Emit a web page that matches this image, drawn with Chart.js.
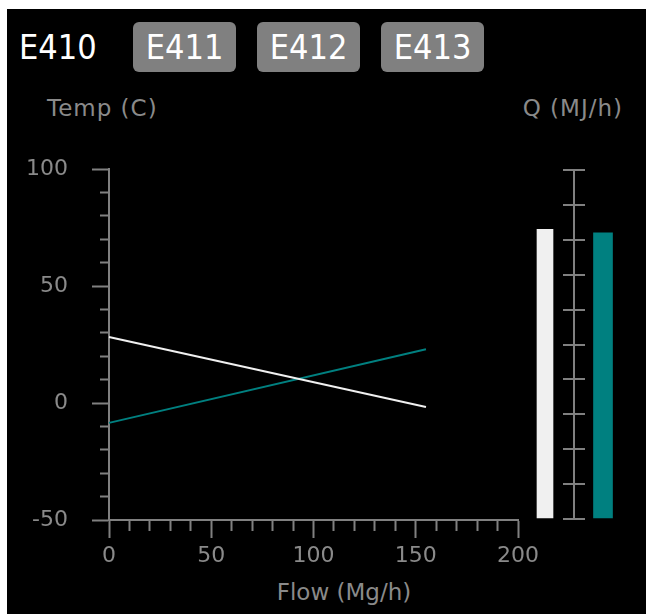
<!DOCTYPE html>
<html lang="en">
<head>
<meta charset="UTF-8">
<title>E410</title>
<script src="https://cdn.jsdelivr.net/npm/chart.js@4.4.1/dist/chart.umd.min.js"></script>
<style>
body { margin: 0; background: #fff; width: 646px; height: 614px; position: relative; overflow: hidden; font-family: 'DejaVu Sans', sans-serif; }
#panel { position: absolute; left: 7px; top: 9px; right: 0; bottom: 0; background: #000; }
canvas { position: absolute; top: 0; }
#lineChart { left: 0; }
#qChart { left: 500px; }
.tab { position: absolute; top: 22px; height: 50px; line-height: 50px; font-family: 'DejaVu Sans Condensed', 'DejaVu Sans', sans-serif; font-size: 34px; color: #fff; }
.tab.off { width: 103px; background: #808080; border-radius: 6px; text-align: center; }
.label { position: absolute; font-size: 23px; line-height: 23px; color: #8a8a8a; white-space: nowrap; }
.wide { letter-spacing: 1px; }
</style>
</head>
<body>
<div id="panel"></div>
<div class="tab" style="left:19px">E410</div>
<div class="tab off" style="left:133px">E411</div>
<div class="tab off" style="left:257px">E412</div>
<div class="tab off" style="left:381px">E413</div>
<div class="label wide" style="left:47px; top:97px">Temp (C)</div>
<div class="label wide" style="right:23px; top:97px">Q (MJ/h)</div>
<div class="label" style="left:244px; width:200px; text-align:center; top:581px">Flow (Mg/h)</div>

<canvas id="lineChart" width="545" height="614"></canvas>
<canvas id="qChart" width="146" height="614"></canvas>

<script>
// temperature profiles vs flow
const flow = [0, 155]
const hotTemp = [28.2, -1.7]
const coldTemp = [-8.5, 23]

// duty bars
const qLabels = ['Hot', 'Cold']
const qValues = [83, 82]

// labelled ticks
const tempLabels = [-50, 0, 50, 100]
const flowLabels = [0, 50, 100, 150, 200]

const AXIS = '#808080'
const HOT = '#f0f0f0'
const COLD = '#008080'

Chart.defaults.font.family = "'DejaVu Sans', sans-serif"
Chart.defaults.font.size = 22
Chart.defaults.color = '#8a8a8a'

let isMajor = (list, c) => c.tick && list.includes(Math.round(c.tick.value))

new Chart(document.getElementById('lineChart'), {
    type: 'line',
    data: {
        datasets: [{
            label: 'Hot',
            data: flow.map((f, i) => ({x: f, y: hotTemp[i]})),
            borderColor: HOT,
            borderWidth: 2,
            pointRadius: 0,
            clip: false
        }, {
            label: 'Cold',
            data: flow.map((f, i) => ({x: f, y: coldTemp[i]})),
            borderColor: COLD,
            borderWidth: 2,
            pointRadius: 0,
            clip: false
        }]
    },
    options: {
        responsive: false,
        animation: false,
        layout: {padding: {left: 0, top: 169, right: 27, bottom: 34}},
        plugins: {legend: {display: false}, tooltip: {enabled: false}},
        scales: {
            x: {
                type: 'linear',
                min: 0,
                max: 200,
                afterFit: s => { s.height = 60 },
                border: {color: AXIS, width: 2},
                grid: {
                    drawOnChartArea: false,
                    tickLength: 18,
                    tickWidth: 2,
                    tickColor: AXIS,
                    tickBorderDash: c => isMajor(flowLabels, c) ? [] : [10, 30],
                    tickBorderDashOffset: 0
                },
                ticks: {
                    stepSize: 10,
                    autoSkip: false,
                    maxRotation: 0,
                    minRotation: 0,
                    padding: 5,
                    callback: v => flowLabels.includes(v) ? v : ''
                }
            },
            y: {
                min: -50,
                max: 100,
                afterFit: s => { s.width = 109 },
                border: {color: AXIS, width: 2},
                grid: {
                    drawOnChartArea: false,
                    tickLength: 17,
                    tickWidth: 2,
                    tickColor: AXIS,
                    tickBorderDash: c => isMajor(tempLabels, c) ? [] : [8, 8],
                    tickBorderDashOffset: c => isMajor(tempLabels, c) ? 0 : 8
                },
                ticks: {
                    stepSize: 10,
                    autoSkip: false,
                    padding: 24,
                    callback: v => tempLabels.includes(v) ? v : ''
                }
            }
        }
    }
})

// Q scale sits between the two bars, ticks crossing it
let qDashOffset = c => {
    let a = c.chart.chartArea
    return 422 - ((a.right - a.left) / 2 - 11)
}

new Chart(document.getElementById('qChart'), {
    type: 'bar',
    data: {
        labels: qLabels,
        datasets: [{
            label: 'Q hot',
            data: [qValues[0], null],
            backgroundColor: HOT,
            barThickness: 16,
            grouped: false
        }, {
            label: 'Q cold',
            data: [null, qValues[1]],
            backgroundColor: COLD,
            barThickness: 19,
            grouped: false
        }]
    },
    options: {
        responsive: false,
        animation: false,
        layout: {padding: {left: 16, top: 170, right: 14, bottom: 95}},
        plugins: {legend: {display: false}, tooltip: {enabled: false}},
        scales: {
            x: {
                afterFit: s => { s.height = 0 },
                ticks: {display: false},
                border: {display: false},
                grid: {
                    offset: true,
                    drawTicks: false,
                    lineWidth: 2,
                    color: c => c.index === 1 ? AXIS : 'transparent'
                }
            },
            y: {
                min: 0,
                max: 100,
                afterFit: s => { s.width = 0 },
                ticks: {display: false, stepSize: 10, autoSkip: false},
                border: {display: false, dash: [22, 400], dashOffset: qDashOffset},
                grid: {
                    drawTicks: false,
                    lineWidth: 2,
                    color: AXIS,
                    borderDash: [22, 400],
                    borderDashOffset: qDashOffset
                }
            }
        }
    }
})
</script>
</body>
</html>
